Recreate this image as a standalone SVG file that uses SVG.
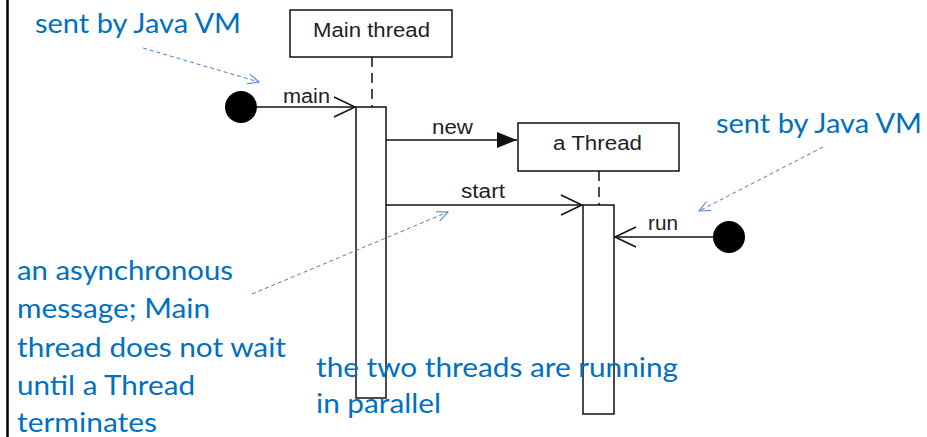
<svg xmlns="http://www.w3.org/2000/svg" width="927" height="437" viewBox="0 0 927 437">
<style>
.box{fill:#fff;stroke:#111;stroke-width:1.5}
.life{stroke:#111;stroke-width:1.5;stroke-dasharray:10,6;fill:none}
.msg{stroke:#111;stroke-width:1.5;fill:none}
.lbl{font-family:"Liberation Sans",Arial,sans-serif;font-size:20px;fill:#222}
.note{font-family:Lato,"Open Sans",sans-serif;font-size:26px;fill:#0070C0}
.ptr{stroke:#4a7cc4;stroke-width:1;stroke-dasharray:4,3;fill:none}
</style>
<defs>
<marker id="open" markerWidth="24" markerHeight="24" refX="22" refY="11" orient="auto" markerUnits="userSpaceOnUse">
<path d="M1,1 L22,11 L1,21" fill="none" stroke="#111" stroke-width="1.5"/>
</marker>
<marker id="filled" markerWidth="22" markerHeight="18" refX="20" refY="9" orient="auto" markerUnits="userSpaceOnUse">
<path d="M0,1 L20,9 L0,17 Z" fill="#111"/>
</marker>
<marker id="small" markerWidth="14" markerHeight="14" refX="12" refY="7" orient="auto" markerUnits="userSpaceOnUse">
<path d="M1,2 L12,7 L1,12" fill="none" stroke="#4a7cc4" stroke-width="1"/>
</marker>
</defs>
<line x1="7.5" y1="0" x2="7.5" y2="437" stroke="#000" stroke-width="2.5"/>
<g id="main-thread">
<rect class="box" x="290" y="10" width="162" height="47"/>
<text class="lbl" x="313" y="37" textLength="117" lengthAdjust="spacingAndGlyphs">Main thread</text>
<line class="life" x1="372" y1="57" x2="372" y2="107"/>
<rect class="box" x="356" y="107" width="30" height="291"/>
</g>
<g id="a-thread">
<rect class="box" x="518" y="123" width="161" height="48"/>
<text class="lbl" x="553" y="150" textLength="89" lengthAdjust="spacingAndGlyphs">a Thread</text>
<line class="life" x1="599" y1="171" x2="599" y2="205"/>
<rect class="box" x="583" y="205" width="31" height="209"/>
</g>
<g id="start-jvm1">
<circle cx="241" cy="107" r="16" fill="#000"/>
</g>
<g id="start-jvm2">
<circle cx="729" cy="237" r="16" fill="#000"/>
</g>
<g id="connectors">
<line class="msg" x1="257" y1="107" x2="355" y2="107" marker-end="url(#open)"/>
<text class="lbl" x="283" y="103" textLength="47" lengthAdjust="spacingAndGlyphs">main</text>
<line class="msg" x1="386" y1="140" x2="517" y2="140" marker-end="url(#filled)"/>
<text class="lbl" x="432" y="134" textLength="41" lengthAdjust="spacingAndGlyphs">new</text>
<line class="msg" x1="386" y1="205" x2="582" y2="205" marker-end="url(#open)"/>
<text class="lbl" x="461" y="198" textLength="44" lengthAdjust="spacingAndGlyphs">start</text>
<line class="msg" x1="713" y1="237" x2="615" y2="237" marker-end="url(#open)"/>
<text class="lbl" x="648" y="230" textLength="30" lengthAdjust="spacingAndGlyphs">run</text>
<line class="ptr" x1="143" y1="48" x2="259" y2="82" marker-end="url(#small)"/>
<line class="ptr" x1="823" y1="147" x2="699" y2="211" marker-end="url(#small)"/>
<line class="ptr" x1="252" y1="294" x2="448" y2="212" marker-end="url(#small)"/>
</g>
<g id="notes">
<text class="note" x="35" y="33" textLength="206" lengthAdjust="spacingAndGlyphs">sent by Java VM</text>
<text class="note" x="716" y="133" textLength="206" lengthAdjust="spacingAndGlyphs">sent by Java VM</text>
<text class="note" x="17" y="280" textLength="216" lengthAdjust="spacingAndGlyphs">an asynchronous</text>
<text class="note" x="17" y="318" textLength="193" lengthAdjust="spacingAndGlyphs">message; Main</text>
<text class="note" x="17" y="357" textLength="269" lengthAdjust="spacingAndGlyphs">thread does not wait</text>
<text class="note" x="17" y="395" textLength="178" lengthAdjust="spacingAndGlyphs">until a Thread</text>
<text class="note" x="17" y="432" textLength="140" lengthAdjust="spacingAndGlyphs">terminates</text>
<text class="note" x="316" y="377" textLength="362" lengthAdjust="spacingAndGlyphs">the two threads are running</text>
<text class="note" x="316" y="413" textLength="125" lengthAdjust="spacingAndGlyphs">in parallel</text>
</g>
</svg>
